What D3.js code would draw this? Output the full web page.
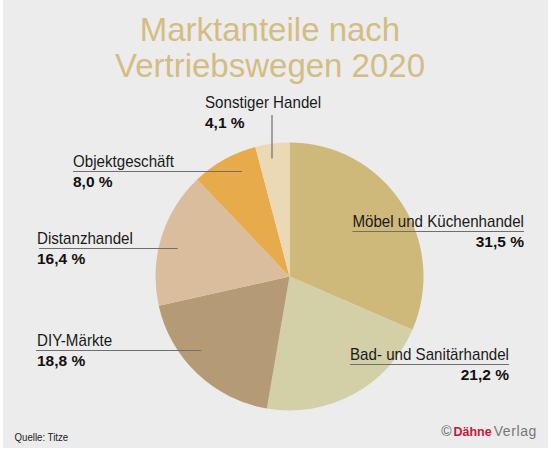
<!DOCTYPE html>
<html><head><meta charset="utf-8">
<script src="https://cdn.jsdelivr.net/npm/d3@7"></script>
<style>
html,body{margin:0;padding:0;background:#fff;}
svg{display:block;}
</style></head>
<body>
<svg id="chart" width="550" height="450"></svg>
<script>
// ---- data ----
const titleLines = ["Marktanteile nach", "Vertriebswegen 2020"];
const categories = ["Möbel und Küchenhandel", "Bad- und Sanitärhandel", "DIY-Märkte", "Distanzhandel", "Objektgeschäft", "Sonstiger Handel"];
const shares = [31.5, 21.2, 18.8, 16.4, 8.0, 4.1];
const shareLabels = ["31,5 %", "21,2 %", "18,8 %", "16,4 %", "8,0 %", "4,1 %"];
const sliceColors = ["#cfb97a", "#d3cfa6", "#b59b75", "#d9bd9c", "#e8ab4b", "#ead9b4"];
const sourceText = "Quelle: Titze";

// ---- layout (label placement) ----
const labelLayout = [
  {side: "right", x: 524, y: 227},
  {side: "right", x: 509, y: 360},
  {side: "left",  x: 37,  y: 346, lineX: 36},
  {side: "left",  x: 37,  y: 244, lineX: 39},
  {side: "left",  x: 73,  y: 167, lineX: 73},
  {side: "top",   x: 205, y: 108, lineX: 272}
];

const W = 550, H = 450;
const cx = 289.5, cy = 276.5, R = 134;
const svg = d3.select("#chart");
const sans = "'Liberation Sans',Arial,sans-serif";

function condense(sel, f) {
  const w = sel.node().getComputedTextLength();
  sel.attr("textLength", w * f).attr("lengthAdjust", "spacingAndGlyphs");
  return w * f;
}

svg.append("rect").attr("x", 3).attr("y", 0).attr("width", W - 5).attr("height", H - 2).attr("fill", "#ececec");

// title
svg.append("g").selectAll("text").data(titleLines).join("text")
  .attr("x", 270).attr("y", (d, i) => 41 + i * 36)
  .attr("text-anchor", "middle")
  .attr("font-family", sans)
  .attr("font-size", 33)
  .attr("fill", "#d4bd83")
  .text(d => d);

const data = categories.map((c, i) => ({cat: c, value: shares[i], label: shareLabels[i], color: sliceColors[i], lay: labelLayout[i]}));
const pie = d3.pie().value(d => d.value).sort(null);
const arcs = pie(data);
const arc = d3.arc().innerRadius(0).outerRadius(R);

const g = svg.append("g").attr("transform", `translate(${cx},${cy})`);
g.selectAll("path").data(arcs).join("path")
  .attr("d", arc).attr("fill", d => d.data.color);

// labels
const lg = svg.append("g");
const leaderR = R * 0.86;
arcs.forEach(a => {
  const L = a.data.lay;
  const mid = (a.startAngle + a.endAngle) / 2;
  const t = lg.append("text")
    .attr("x", L.x).attr("y", L.y)
    .attr("font-family", sans).attr("font-size", 17)
    .attr("fill", "#1a1a1a")
    .attr("text-anchor", L.side === "right" ? "end" : "start")
    .text(a.data.cat);
  const tw = condense(t, 0.89);
  lg.append("text")
    .attr("x", L.x).attr("y", L.y + 19.5)
    .attr("font-family", sans).attr("font-size", 15.5).attr("font-weight", "bold")
    .attr("fill", "#111")
    .attr("text-anchor", L.side === "right" ? "end" : "start")
    .text(a.data.label);
  const uy = L.y + 4.5;
  if (L.side === "right") {
    lg.append("line").attr("x1", L.x - tw).attr("x2", L.x).attr("y1", uy).attr("y2", uy)
      .attr("stroke", "#6f6f6f").attr("stroke-width", 1.2);
  } else if (L.side === "left") {
    const dy = uy - cy;
    const sign = Math.sin(mid) < 0 ? -1 : 1;
    const ex = cx + sign * Math.sqrt(Math.max(0, leaderR * leaderR - dy * dy));
    lg.append("line").attr("x1", L.lineX).attr("x2", ex).attr("y1", uy).attr("y2", uy)
      .attr("stroke", "#6f6f6f").attr("stroke-width", 1.2);
  } else {
    const dx = L.lineX - cx;
    const ey = cy - Math.sqrt(Math.max(0, leaderR * leaderR - dx * dx)) - 4;
    lg.append("line").attr("x1", L.lineX).attr("x2", L.lineX).attr("y1", L.y + 7).attr("y2", ey)
      .attr("stroke", "#6f6f6f").attr("stroke-width", 1.2);
  }
});

// footer
const src = svg.append("text").attr("x", 14.5).attr("y", 441)
  .attr("font-family", sans).attr("font-size", 11.5).attr("fill", "#222")
  .text(sourceText);
condense(src, 0.84);

const ft = svg.append("text").attr("x", 537).attr("y", 436).attr("text-anchor", "end")
  .attr("font-family", sans).attr("font-size", 14);
ft.append("tspan").attr("fill", "#666").text("©");
ft.append("tspan").attr("fill", "#c8173a").attr("font-weight", "bold").attr("font-size", 12.5).attr("dx", 2).text("Dähne");
ft.append("tspan").attr("fill", "#777").attr("dx", 2).attr("letter-spacing", 0.6).text("Verlag");
</script>
</body></html>
